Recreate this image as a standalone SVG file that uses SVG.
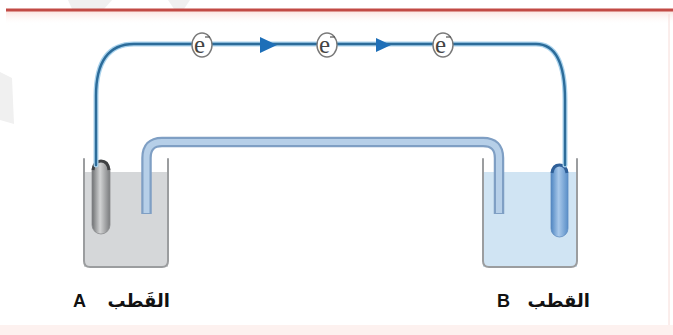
<svg xmlns="http://www.w3.org/2000/svg" width="673" height="335" viewBox="0 0 673 335">
  <defs>
    <style>
      .wall { fill: none; stroke: #9b9d9f; stroke-width: 2; stroke-linecap: round; stroke-linejoin: round; }
      .wire-halo { fill: none; stroke: #a9d2ec; stroke-width: 5; stroke-linecap: round; }
      .wire { fill: none; stroke: #2c6c9a; stroke-width: 2.4; stroke-linecap: round; }
      .ering { fill: #ffffff; stroke: #7a7a7a; stroke-width: 1.4; }
      .etxt { font-family: "Liberation Serif", "DejaVu Serif", serif; font-size: 25px; fill: #444; }
      .flow { fill: #1e6fb8; }
      .label { font-family: "Liberation Sans", "DejaVu Sans", sans-serif; font-weight: bold; font-size: 18px; fill: #111; }
      .arabic { font-family: "DejaVu Sans", "Noto Sans", sans-serif; font-weight: bold; font-size: 18px; fill: #111; }
    </style>
    <linearGradient id="metalA" x1="0" y1="0" x2="1" y2="0">
      <stop offset="0" stop-color="#6e7072"/>
      <stop offset="0.45" stop-color="#d2d3d4"/>
      <stop offset="1" stop-color="#7a7c7e"/>
    </linearGradient>
    <linearGradient id="metalB" x1="0" y1="0" x2="1" y2="0">
      <stop offset="0" stop-color="#4f86c2"/>
      <stop offset="0.45" stop-color="#a8c8ea"/>
      <stop offset="1" stop-color="#5a8fc8"/>
    </linearGradient>
    <linearGradient id="topGlow" x1="0" y1="0" x2="0" y2="1">
      <stop offset="0" stop-color="#fbe3df"/>
      <stop offset="1" stop-color="#ffffff" stop-opacity="0"/>
    </linearGradient>
  </defs>

  <rect width="673" height="335" fill="#ffffff"/>

  <!-- faint background mark -->
  <g fill="#f0f0f0">
    <polygon points="68,0 112,0 104,9 72,9"/>
    <polygon points="168,0 190,0 184,9 174,9"/>
    <polygon points="0,72 12,78 14,124 0,120"/>
  </g>

  <!-- page header rule and footer band -->
  <rect x="6" y="11" width="667" height="14" fill="url(#topGlow)"/>
  <rect x="6" y="8.5" width="667" height="3" fill="#c24a45"/>
  <rect x="0" y="325" width="673" height="10" fill="#fdf1ef"/>
  <line x1="669" y1="14" x2="669" y2="325" stroke="#f6dcd8" stroke-width="1"/>

  <!-- left beaker, electrode A -->
  <g id="beaker-A">
    <rect x="84" y="172" width="84" height="95" fill="#d5d7d9"/>
    <path class="wall" d="M84,159 V261 Q84,267 90,267 H162 Q168,267 168,261 V159"/>
  </g>

  <!-- right beaker, electrode B -->
  <g id="beaker-B">
    <rect x="483" y="172" width="94" height="95" fill="#d0e4f3"/>
    <path class="wall" d="M483,159 V261 Q483,267 489,267 H571 Q577,267 577,261 V159"/>
  </g>

  <!-- salt bridge -->
  <g id="salt-bridge">
    <path d="M146.5,214 V158 Q146.5,142 162,142 H483 Q499,142 499,158 V214" fill="none" stroke="#7f9fc4" stroke-width="10.5"/>
    <path d="M146.5,213 V158 Q146.5,142 162,142 H483 Q499,142 499,158 V213" fill="none" stroke="#b6cfe8" stroke-width="6"/>
  </g>

  <g id="electrode-A">
    <rect x="92" y="161" width="18" height="73" rx="9" fill="url(#metalA)" stroke="#8a8c8e" stroke-width="0.8"/>
    <path d="M93,170 Q94,161 101,161 Q108,161 109,170" fill="none" stroke="#3f4143" stroke-width="3"/>
  </g>

  <g id="electrode-B">
    <rect x="551" y="165" width="17" height="72" rx="8.5" fill="url(#metalB)" stroke="#5e8cc0" stroke-width="0.8"/>
    <path d="M552,173 Q553,165 559.5,165 Q566,165 567,173" fill="none" stroke="#2f5f98" stroke-width="3"/>
  </g>

  <!-- external wire carrying electrons -->
  <g id="connectors">
    <path class="wire-halo" d="M96,165 V96 Q96,44 134,44 H536 Q565,44 565,100 V165"/>
    <path class="wire" d="M96,165 V96 Q96,44 134,44 H536 Q565,44 565,100 V165"/>
    <polygon class="flow" points="260,37 277,45 260,53"/>
    <polygon class="flow" points="376,38 391,45 376,52"/>
  </g>

  <g id="electron-1">
    <ellipse class="ering" cx="202" cy="45" rx="10" ry="12"/>
    <text class="etxt" x="194" y="53">e</text>
    <line x1="205" y1="37" x2="210" y2="37" stroke="#555" stroke-width="1.2"/>
  </g>
  <g id="electron-2">
    <ellipse class="ering" cx="327" cy="45" rx="10" ry="12"/>
    <text class="etxt" x="319" y="53">e</text>
    <line x1="330" y1="37" x2="335" y2="37" stroke="#555" stroke-width="1.2"/>
  </g>
  <g id="electron-3">
    <ellipse class="ering" cx="443" cy="45" rx="10" ry="12"/>
    <text class="etxt" x="435" y="53">e</text>
    <line x1="446" y1="37" x2="451" y2="37" stroke="#555" stroke-width="1.2"/>
  </g>

  <!-- electrode labels -->
  <g id="label-A">
    <text class="label" x="73" y="307">A</text>
    <text class="arabic" x="170" y="307" text-anchor="end">القَطب</text>
  </g>
  <g id="label-B">
    <text class="label" x="497" y="307">B</text>
    <text class="arabic" x="590" y="307" text-anchor="end">القطب</text>
  </g>
</svg>
